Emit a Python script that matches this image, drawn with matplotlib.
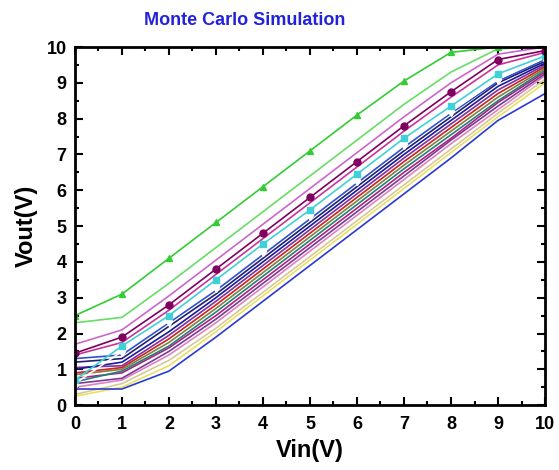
import matplotlib
matplotlib.use("Agg")
import matplotlib.pyplot as plt
from matplotlib.ticker import MultipleLocator

plt.rcParams['font.family'] = ['Liberation Sans', 'DejaVu Sans']
plt.rcParams['font.weight'] = 'bold'

vin = [0, 1, 2, 3, 4, 5, 6, 7, 8, 9, 10]

s_green = [2.5, 3.1, 4.1, 5.1, 6.1, 7.1, 8.1, 9.05, 9.85, 10.0, 10.0]
s_lgreen = [2.3, 2.45, 3.4, 4.4, 5.4, 6.4, 7.4, 8.4, 9.3, 9.95, 10.0]
s_violet = [1.7, 2.1, 3.05, 4.05, 5.05, 6.05, 7.05, 8.05, 9.0, 9.8, 10.0]
s_purple_c = [1.45, 1.9, 2.8, 3.8, 4.8, 5.8, 6.8, 7.8, 8.75, 9.65, 9.9]
s_magenta = [1.4, 1.75, 2.65, 3.65, 4.65, 5.65, 6.65, 7.65, 8.6, 9.5, 9.85]
s_cyan = [0.7, 1.65, 2.5, 3.5, 4.5, 5.45, 6.45, 7.45, 8.35, 9.25, 9.75]
s_white = [0.6, 1.5, 2.35, 3.3, 4.3, 5.3, 6.3, 7.3, 8.2, 9.1, 9.7]
s_blue = [1.3, 1.4, 2.3, 3.2, 4.2, 5.2, 6.2, 7.2, 8.15, 9.05, 9.65]
s_navy = [1.2, 1.3, 2.2, 3.1, 4.1, 5.1, 6.1, 7.1, 8.05, 9.0, 9.6]
s_dblue = [1.0, 1.2, 2.05, 3.0, 4.0, 5.0, 6.0, 7.0, 7.95, 8.9, 9.55]
s_purple = [1.05, 1.1, 1.95, 2.9, 3.9, 4.9, 5.9, 6.9, 7.85, 8.8, 9.5]
s_red = [0.9, 1.05, 1.85, 2.8, 3.8, 4.8, 5.8, 6.8, 7.75, 8.7, 9.45]
s_olive = [0.85, 1.0, 1.75, 2.7, 3.7, 4.7, 5.7, 6.7, 7.65, 8.6, 9.4]
s_teal = [0.65, 0.95, 1.65, 2.6, 3.6, 4.6, 5.6, 6.6, 7.55, 8.5, 9.35]
s_dmagenta = [0.75, 0.9, 1.6, 2.5, 3.5, 4.5, 5.5, 6.5, 7.45, 8.45, 9.3]
s_dpurple = [0.6, 0.75, 1.5, 2.4, 3.4, 4.4, 5.4, 6.4, 7.4, 8.35, 9.25]
s_pink = [0.5, 0.7, 1.4, 2.3, 3.3, 4.3, 5.3, 6.3, 7.3, 8.25, 9.2]
s_tan = [0.3, 0.6, 1.25, 2.15, 3.15, 4.15, 5.15, 6.15, 7.15, 8.15, 9.1]
s_yellow = [0.25, 0.5, 1.1, 2.05, 3.05, 4.05, 5.05, 6.05, 7.05, 8.05, 9.0]
s_bblue = [0.45, 0.45, 0.95, 1.9, 2.9, 3.9, 4.9, 5.9, 6.9, 7.95, 8.7]

series = [
    (s_lgreen, '#66dd66', None),
    (s_green, '#33cc33', '^'),
    (s_violet, '#cc66cc', None),
    (s_magenta, '#cc3399', None),
    (s_tan, '#d8c89a', None),
    (s_yellow, '#e8e060', None),
    (s_pink, '#e080c0', None),
    (s_dpurple, '#7a3a9a', None),
    (s_dmagenta, '#b0207a', None),
    (s_teal, '#208080', None),
    (s_olive, '#808040', None),
    (s_red, '#d02020', None),
    (s_purple, '#8030a0', None),
    (s_dblue, '#1a1aa0', None),
    (s_navy, '#202070', None),
    (s_blue, '#3050d0', None),
    (s_bblue, '#2a3ad0', None),
    (s_white, '#ffffff', 'd'),
    (s_cyan, '#40d0d8', 's'),
    (s_purple_c, '#800060', 'o'),
]

fig = plt.figure(figsize=(5.59, 4.7), dpi=100)
ax = fig.add_axes([0.134, 0.138, 0.841, 0.762])

for vals, col, mk in series:
    ax.plot(vin, vals, color=col, lw=1.2, marker=mk, markersize=5,
            markeredgecolor=col, markerfacecolor=col)

ax.set_xlim(0, 10)
ax.set_ylim(0, 10)
ax.xaxis.set_major_locator(MultipleLocator(1))
ax.yaxis.set_major_locator(MultipleLocator(1))
ax.xaxis.set_minor_locator(MultipleLocator(0.5))
ax.yaxis.set_minor_locator(MultipleLocator(0.5))
ax.tick_params(which='both', direction='in', top=True, right=True, width=1.5)
ax.tick_params(which='major', length=6, labelsize=13)
ax.tick_params(axis='x', which='major', pad=8)
ax.tick_params(axis='y', which='major', pad=6)
ax.tick_params(which='minor', length=3)
for sp in ax.spines.values():
    sp.set_linewidth(2)

ax.set_xlabel('Vin(V)', fontsize=17, fontweight='bold', labelpad=4)
ax.set_ylabel('Vout(V)', fontsize=17, fontweight='bold', labelpad=6)
fig.text(0.437, 0.957, 'Monte Carlo Simulation', color='#2222dd',
         fontsize=13, fontweight='bold', ha='center', va='center')

fig.savefig('out.png', dpi=100)
